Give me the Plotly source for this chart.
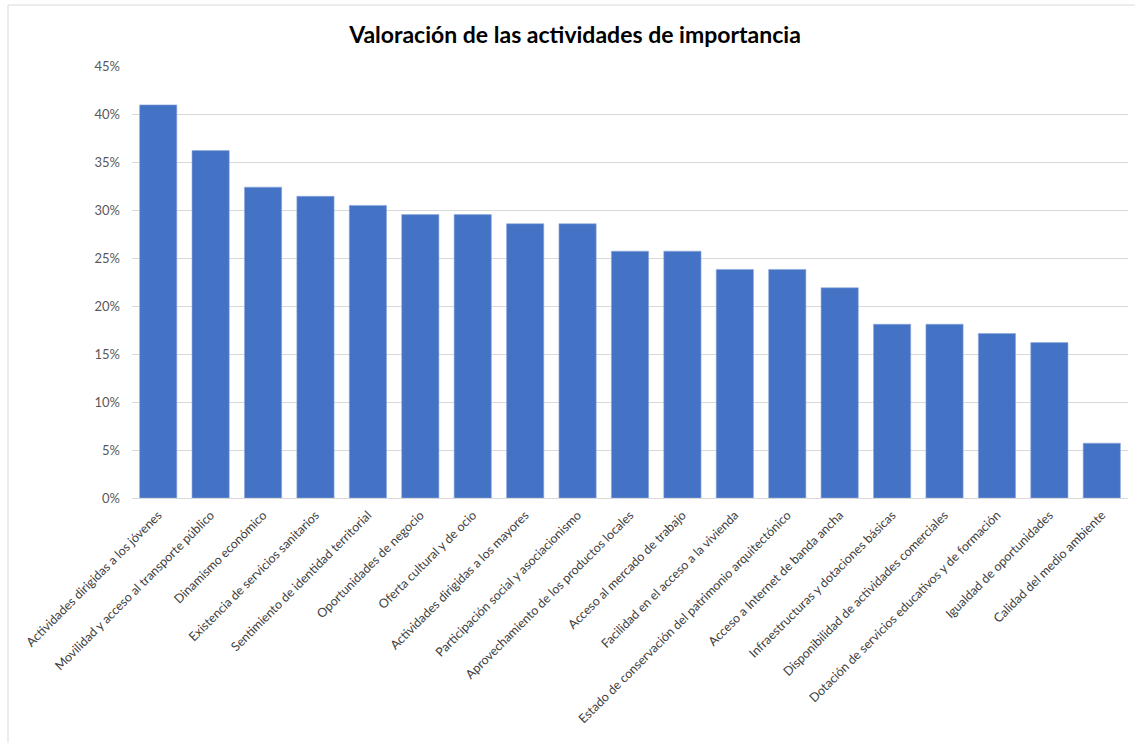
import plotly.graph_objects as go

# Activities and share of respondents who rated each as important
categorias = [
    "Actividades dirigidas a los jóvenes",
    "Movilidad y acceso al transporte público",
    "Dinamismo económico",
    "Existencia de servicios sanitarios",
    "Sentimiento de identidad territorial",
    "Oportunidades de negocio",
    "Oferta cultural y de ocio",
    "Actividades dirigidas a los mayores",
    "Participación social y asociacionismo",
    "Aprovechamiento de los productos locales",
    "Acceso al mercado de trabajo",
    "Facilidad en el acceso a la vivienda",
    "Estado de conservación del patrimonio arquitectónico",
    "Acceso a Internet de banda ancha",
    "Infraestructuras y dotaciones básicas",
    "Disponibilidad de actividades comerciales",
    "Dotación de servicios educativos y de formación",
    "Igualdad de oportunidades",
    "Calidad del medio ambiente",
]
valores = [0.4095, 0.3619, 0.3238, 0.3143, 0.3048, 0.2952, 0.2952, 0.2857, 0.2857,
           0.2571, 0.2571, 0.2381, 0.2381, 0.2190, 0.1810, 0.1810, 0.1714, 0.1619, 0.0571]

ticks_y = [0, 0.05, 0.10, 0.15, 0.20, 0.25, 0.30, 0.35, 0.40, 0.45]
etiquetas_y = ["0%", "5%", "10%", "15%", "20%", "25%", "30%", "35%", "40%", "45%"]

W, H = 1135, 743
ML, MR, MT, MB = 132, 7, 66, 245

fig = go.Figure(go.Bar(
    x=categorias,
    y=valores,
    marker=dict(color="#4472C4", line=dict(color="#8faadc", width=0.6)),
))

fig.update_layout(
    width=W, height=H,
    margin=dict(l=ML, r=MR, t=MT, b=MB),
    paper_bgcolor="white",
    plot_bgcolor="white",
    bargap=0.29,
    showlegend=False,
    font=dict(family="Lato, 'Open Sans', sans-serif", color="#404040"),
    title=dict(
        text="<b>Valoración de las actividades de importancia</b>",
        x=(575) / W, xanchor="center",
        y=1 - 35 / H, yanchor="middle",
        font=dict(size=23, color="#000000", family="Lato, 'Open Sans', sans-serif"),
    ),
    xaxis=dict(
        tickangle=-45,
        tickfont=dict(size=12.5, color="#404040"),
        showgrid=False,
        showline=True, linecolor="#d9d9d9", linewidth=1,
        ticks="",
        ticklabelstandoff=4,
        fixedrange=True,
    ),
    yaxis=dict(
        range=[0, 0.45],
        tickvals=ticks_y,
        ticktext=etiquetas_y,
        tickfont=dict(size=13, color="#595959"),
        showgrid=True, gridcolor="#d9d9d9", gridwidth=1,
        zeroline=False,
        showline=False,
        ticks="",
        ticklabelstandoff=11,
        fixedrange=True,
    ),
)

# thin frame along the top and left edges of the chart area
pw = W - ML - MR
ph = H - MT - MB
def px_x(v):
    return (v - ML) / pw
def px_y(v):
    return (H - MB - v) / ph
fig.add_shape(type="line", xref="paper", yref="paper",
              x0=px_x(8), x1=px_x(W), y0=px_y(5), y1=px_y(5),
              line=dict(color="#d9d9d9", width=1))
fig.add_shape(type="line", xref="paper", yref="paper",
              x0=px_x(8), x1=px_x(8), y0=px_y(5), y1=px_y(H),
              line=dict(color="#d9d9d9", width=1))

fig.write_html("out.html")
